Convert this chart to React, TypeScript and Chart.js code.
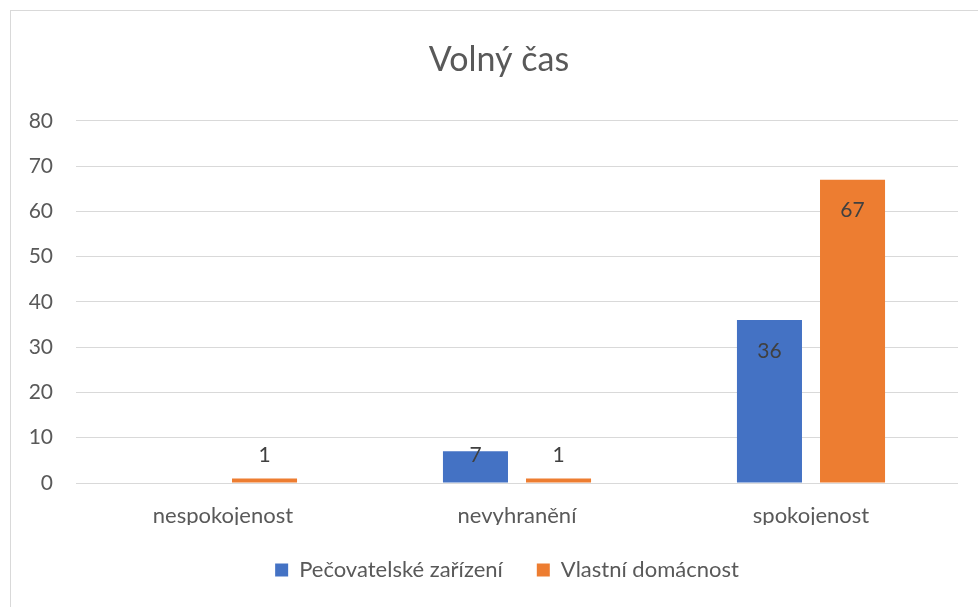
import React, { useEffect, useRef } from "react";
import { Chart, registerables } from "chart.js";

Chart.register(...registerables);

const titleText = "Volný čas";
const categories = ["nespokojenost", "nevyhranění", "spokojenost"];
const seriesNames = ["Pečovatelské zařízení", "Vlastní domácnost"];
const pecovatelske: (number | null)[] = [null, 7, 36];
const vlastni: (number | null)[] = [1, 1, 67];
const yMin = 0;
const yMax = 80;
const yStep = 10;

const BLUE = "#4472C4";
const ORANGE = "#ED7D31";
const TEXT = "#595959";
const GRID = "#d9d9d9";
const FONT = "Lato, 'Noto Sans', sans-serif";

const framePlugin = {
  id: "frame",
  beforeDraw(chart: any) {
    const { ctx, width, height } = chart;
    ctx.save();
    ctx.fillStyle = "#ffffff";
    ctx.fillRect(0, 0, width, height);
    ctx.strokeStyle = GRID;
    ctx.lineWidth = 1;
    ctx.strokeRect(0.5, 0.5, width - 1, height - 1);
    ctx.restore();
  },
};

const shiftPlugin = {
  id: "shiftBlocks",
  afterLayout(chart: any) {
    if (chart.titleBlock) {
      chart.titleBlock.left += 15;
      chart.titleBlock.right += 15;
    }
    if (chart.legend) {
      chart.legend.left += 23;
      chart.legend.right += 23;
    }
  },
};

const labelPlugin = {
  id: "barLabels",
  afterDatasetsDraw(chart: any) {
    const { ctx } = chart;
    ctx.save();
    ctx.font = `21px ${FONT}`;
    ctx.fillStyle = "#404040";
    ctx.textAlign = "center";
    ctx.textBaseline = "middle";
    chart.data.datasets.forEach((ds: any, di: number) => {
      const meta = chart.getDatasetMeta(di);
      meta.data.forEach((el: any, i: number) => {
        const v = ds.data[i];
        if (v === null || v === undefined) return;
        const cy = Math.min(el.y + 31, el.base - 27);
        ctx.fillText(String(v), el.x, cy);
      });
    });
    ctx.restore();
  },
};

export default function App() {
  const ref = useRef<HTMLCanvasElement | null>(null);
  useEffect(() => {
    if (!ref.current) return;
    const chart = new Chart(ref.current, {
      type: "bar",
      data: {
        labels: categories,
        datasets: [
          {
            label: seriesNames[0],
            data: pecovatelske,
            backgroundColor: BLUE,
            categoryPercentage: 0.565,
            barPercentage: 0.783,
          },
          {
            label: seriesNames[1],
            data: vlastni,
            backgroundColor: ORANGE,
            categoryPercentage: 0.565,
            barPercentage: 0.783,
          },
        ],
      },
      options: {
        animation: false,
        responsive: true,
        maintainAspectRatio: false,
        layout: { padding: { left: 0, right: 32, top: 0, bottom: 19 } },
        plugins: {
          title: {
            display: true,
            text: titleText,
            color: TEXT,
            font: { family: FONT, size: 34, weight: "normal" },
            padding: { top: 30, bottom: 40 },
          },
          legend: {
            display: true,
            position: "bottom",
            labels: {
              color: TEXT,
              font: { family: FONT, size: 22 },
              boxWidth: 13,
              boxHeight: 13,
              padding: 34,
            },
          },
          tooltip: { enabled: false },
        },
        scales: {
          x: {
            grid: { display: false, drawTicks: false },
            border: { display: false },
            ticks: { color: TEXT, font: { family: FONT, size: 22 }, padding: 20 },
            afterFit(scale: any) {
              scale.height = 42;
            },
          },
          y: {
            min: yMin,
            max: yMax,
            grid: { color: GRID, drawTicks: false },
            border: { display: false },
            ticks: {
              stepSize: yStep,
              color: TEXT,
              font: { family: FONT, size: 21 },
              padding: 23,
            },
            afterFit(scale: any) {
              scale.width = 66;
            },
          },
        },
      },
      plugins: [framePlugin, shiftPlugin, labelPlugin],
    });
    return () => chart.destroy();
  }, []);

  return (
    <div style={{ position: "fixed", left: 0, top: 0, right: 0, bottom: 0, overflow: "hidden", background: "#fff" }}>
      <div style={{ position: "absolute", left: 10, top: 10, width: 980, height: 600 }}>
        <canvas ref={ref} />
      </div>
    </div>
  );
}
